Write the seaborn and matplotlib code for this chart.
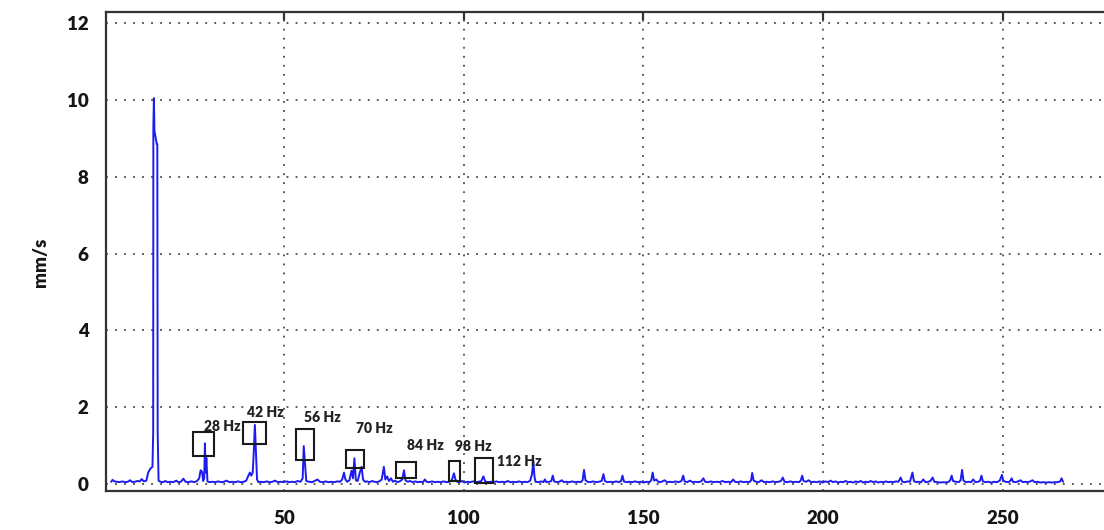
import matplotlib
matplotlib.use("Agg")
import matplotlib.pyplot as plt
from matplotlib.patches import Rectangle
import seaborn as sns
import pandas as pd

# ---------------- data ----------------
# spectrum vertices: (frequency Hz, amplitude mm/s), split by band
band_low = [(1.9, 0.06), (2.3, 0.11), (2.8, 0.07), (3.5, 0.06), (4.2, 0.05), (5.0, 0.07),
            (5.8, 0.05), (6.5, 0.06), (7.2, 0.10), (7.8, 0.05), (8.5, 0.06), (9.2, 0.08),
            (9.9, 0.07), (10.4, 0.13), (11.0, 0.07), (11.7, 0.09), (12.2, 0.30), (12.8, 0.40),
            (13.4, 0.45)]
band_main = [(13.6, 1.32), (13.65, 9.3), (13.8, 10.05), (13.95, 9.2), (14.6, 8.85), (14.75, 8.85),
             (14.85, 1.36), (15.1, 0.09)]
band_14_28 = [(15.6, 0.06), (16.3, 0.05), (17.0, 0.08), (17.6, 0.05), (18.4, 0.06), (19.2, 0.05),
              (20.0, 0.09), (20.6, 0.05), (21.3, 0.06), (22.0, 0.14), (22.6, 0.06), (23.4, 0.05),
              (24.2, 0.07), (25.0, 0.05), (25.8, 0.08), (26.4, 0.15), (26.8, 0.36), (27.2, 0.32),
              (27.5, 0.08), (27.8, 0.15), (28.0, 1.06), (28.2, 0.30), (28.4, 0.68), (28.7, 0.07)]
band_28_42 = [(29.3, 0.05), (30.1, 0.06), (30.9, 0.05), (31.7, 0.07), (32.5, 0.05), (33.3, 0.06),
              (34.0, 0.09), (34.8, 0.05), (35.6, 0.06), (36.4, 0.05), (37.2, 0.07), (38.0, 0.05),
              (38.8, 0.06), (39.5, 0.09), (40.0, 0.20), (40.5, 0.30), (40.9, 0.22), (41.3, 0.30),
              (41.6, 0.85), (41.9, 1.54), (42.2, 0.85), (42.5, 0.12), (42.9, 0.05)]
band_42_56 = [(43.6, 0.06), (44.4, 0.05), (45.2, 0.07), (46.0, 0.05), (46.8, 0.06), (47.5, 0.09),
              (48.3, 0.05), (49.1, 0.06), (49.9, 0.05), (50.7, 0.07), (51.5, 0.05), (52.3, 0.06),
              (53.0, 0.05), (53.8, 0.08), (54.6, 0.06), (55.2, 0.15), (55.5, 0.99), (55.9, 0.45),
              (56.2, 0.08)]
band_56_70 = [(57.0, 0.06), (57.8, 0.05), (58.5, 0.08), (59.3, 0.12), (60.0, 0.06), (60.8, 0.05),
              (61.6, 0.07), (62.4, 0.05), (63.2, 0.06), (64.0, 0.05), (64.8, 0.07), (65.6, 0.06),
              (66.2, 0.12), (66.7, 0.30), (67.1, 0.12), (67.6, 0.06), (68.2, 0.10), (68.8, 0.35),
              (69.2, 0.15), (69.6, 0.67), (70.0, 0.10), (70.5, 0.08), (71.1, 0.30), (71.6, 0.45),
              (72.0, 0.12), (72.5, 0.06)]
band_72_98 = [(73.1, 0.07), (73.8, 0.05), (74.5, 0.08), (75.2, 0.06), (75.9, 0.05), (76.5, 0.07),
              (77.2, 0.12), (77.8, 0.45), (78.2, 0.12), (78.7, 0.20), (79.2, 0.08), (79.8, 0.15),
              (80.3, 0.06), (80.9, 0.09), (81.5, 0.05), (82.2, 0.07), (82.9, 0.12), (83.4, 0.36),
              (83.8, 0.10), (84.4, 0.06), (85.1, 0.08), (85.8, 0.05), (86.5, 0.07), (87.2, 0.05),
              (88.0, 0.06), (88.7, 0.05), (89.2, 0.12), (89.7, 0.06), (90.4, 0.05), (91.2, 0.07),
              (92.0, 0.05), (92.8, 0.06), (93.6, 0.05), (94.4, 0.07), (95.2, 0.05), (96.0, 0.06),
              (96.7, 0.10), (97.3, 0.28), (97.7, 0.12), (98.2, 0.06)]
band_98_120 = [(98.8, 0.05), (99.5, 0.08), (100.2, 0.04), (101.0, 0.06), (101.8, 0.05), (102.6, 0.07),
               (103.4, 0.05), (104.2, 0.06), (104.9, 0.08), (105.5, 0.20), (106.0, 0.07), (106.7, 0.05),
               (107.5, 0.06), (108.3, 0.05), (109.1, 0.07), (109.9, 0.05), (110.7, 0.06), (111.5, 0.05),
               (112.3, 0.08), (113.0, 0.05), (113.8, 0.06), (114.6, 0.05), (115.4, 0.07), (116.2, 0.05),
               (117.0, 0.06), (117.8, 0.05), (118.5, 0.09), (119.0, 0.25), (119.4, 0.60), (119.7, 0.20),
               (120.0, 0.06)]
band_120_160 = [(120.8, 0.05), (121.6, 0.07), (122.2, 0.05), (122.6, 0.12), (123.0, 0.05), (123.8, 0.06),
                (124.4, 0.08), (124.8, 0.22), (125.2, 0.07), (125.9, 0.05), (126.6, 0.06), (127.3, 0.10),
                (127.9, 0.05), (128.6, 0.06), (129.4, 0.05), (130.2, 0.07), (131.0, 0.05), (131.8, 0.06),
                (132.6, 0.05), (133.1, 0.10), (133.5, 0.37), (133.9, 0.10), (134.5, 0.06), (135.2, 0.05),
                (136.0, 0.07), (136.8, 0.05), (137.6, 0.06), (138.4, 0.08), (138.9, 0.26), (139.3, 0.08),
                (140.0, 0.05), (140.8, 0.06), (141.6, 0.05), (142.4, 0.07), (143.2, 0.05), (143.8, 0.08),
                (144.2, 0.22), (144.6, 0.07), (145.3, 0.05), (146.1, 0.06), (146.9, 0.05), (147.7, 0.07),
                (148.5, 0.05), (149.3, 0.06), (150.1, 0.04), (150.9, 0.06), (151.7, 0.05), (152.2, 0.10),
                (152.6, 0.30), (153.0, 0.09), (153.6, 0.12), (154.3, 0.05), (155.1, 0.06), (155.9, 0.10),
                (156.6, 0.05), (157.4, 0.06), (158.2, 0.05), (159.0, 0.07), (159.8, 0.05)]
band_160_200 = [(160.6, 0.08), (161.1, 0.22), (161.5, 0.07), (162.2, 0.05), (163.0, 0.09), (163.7, 0.05),
                (164.5, 0.06), (165.3, 0.05), (166.1, 0.07), (166.7, 0.15), (167.2, 0.06), (168.0, 0.05),
                (168.8, 0.07), (169.6, 0.05), (170.4, 0.06), (171.2, 0.05), (172.0, 0.08), (172.8, 0.05),
                (173.6, 0.06), (174.4, 0.05), (175.0, 0.12), (175.5, 0.06), (176.3, 0.05), (177.1, 0.07),
                (177.9, 0.05), (178.7, 0.06), (179.5, 0.05), (180.0, 0.10), (180.3, 0.29), (180.7, 0.09),
                (181.4, 0.06), (182.1, 0.05), (182.9, 0.10), (183.6, 0.05), (184.4, 0.06), (185.2, 0.05),
                (186.0, 0.07), (186.8, 0.05), (187.6, 0.06), (188.3, 0.08), (188.8, 0.17), (189.3, 0.06),
                (190.1, 0.05), (190.9, 0.07), (191.7, 0.05), (192.5, 0.06), (193.3, 0.05), (193.8, 0.09),
                (194.2, 0.22), (194.6, 0.08), (195.3, 0.06), (196.0, 0.10), (196.7, 0.05), (197.5, 0.06),
                (198.3, 0.05), (199.1, 0.07)]
band_200_235 = [(199.9, 0.04), (200.7, 0.07), (201.4, 0.05), (202.1, 0.09), (202.8, 0.05), (203.5, 0.07),
                (204.2, 0.04), (204.9, 0.06), (205.6, 0.05), (206.3, 0.08), (207.0, 0.05), (207.7, 0.06),
                (208.4, 0.04), (209.1, 0.07), (209.8, 0.05), (210.5, 0.08), (211.2, 0.04), (211.9, 0.06),
                (212.6, 0.05), (213.3, 0.08), (214.0, 0.05), (214.7, 0.07), (215.4, 0.04), (216.1, 0.06),
                (216.8, 0.05), (217.5, 0.07), (218.2, 0.05), (218.9, 0.06), (219.6, 0.05), (220.3, 0.07),
                (221.0, 0.06), (221.6, 0.17), (222.1, 0.06), (222.8, 0.05), (223.5, 0.07), (224.2, 0.06),
                (224.9, 0.30), (225.3, 0.08), (225.9, 0.05), (226.6, 0.06), (227.3, 0.05), (227.9, 0.12),
                (228.5, 0.05), (229.2, 0.06), (229.9, 0.08), (230.5, 0.17), (231.0, 0.06), (231.8, 0.05),
                (232.6, 0.04), (233.4, 0.05), (234.2, 0.04)]
band_235_267 = [(235.0, 0.06), (235.4, 0.10), (235.8, 0.22), (236.2, 0.08), (237.0, 0.06), (237.8, 0.05),
                (238.3, 0.10), (238.7, 0.37), (239.1, 0.09), (239.8, 0.05), (240.5, 0.06), (241.2, 0.05),
                (241.8, 0.12), (242.4, 0.05), (243.2, 0.06), (243.7, 0.09), (244.1, 0.22), (244.5, 0.07),
                (245.2, 0.05), (246.0, 0.06), (246.8, 0.04), (247.6, 0.06), (248.4, 0.05), (249.2, 0.09),
                (249.8, 0.24), (250.2, 0.08), (250.9, 0.06), (251.6, 0.05), (252.1, 0.08), (252.5, 0.15),
                (252.9, 0.06), (253.6, 0.05), (254.3, 0.07), (255.0, 0.10), (255.6, 0.05), (256.3, 0.06),
                (257.0, 0.05), (257.7, 0.07), (258.3, 0.10), (258.9, 0.05), (259.7, 0.06), (260.5, 0.04),
                (261.3, 0.05), (262.1, 0.04), (262.9, 0.05), (263.7, 0.04), (264.5, 0.05), (265.3, 0.05),
                (266.0, 0.07), (266.4, 0.15), (266.8, 0.06)]

# harmonic annotations: label, text anchor (left x, centre y), box extents
harm_labels = ["28 Hz", "42 Hz", "56 Hz", "70 Hz", "84 Hz", "98 Hz", "112 Hz"]
label_x = [27.7, 39.6, 55.6, 70.0, 84.3, 97.6, 109.2]
label_y = [1.49, 1.86, 1.73, 1.46, 1.01, 0.99, 0.60]
box_x0 = [24.8, 38.7, 53.3, 67.2, 81.1, 95.9, 103.1]
box_x1 = [30.6, 45.0, 58.4, 72.3, 86.7, 99.0, 108.1]
box_y0 = [0.74, 1.04, 0.63, 0.43, 0.16, 0.08, 0.04]
box_y1 = [1.36, 1.62, 1.43, 0.90, 0.57, 0.60, 0.68]

x_ticks = [50, 100, 150, 200, 250]
y_ticks = [0, 2, 4, 6, 8, 10, 12]
y_label = "mm/s"

# ---------------- build table ----------------
bands = [band_low, band_main, band_14_28, band_28_42, band_42_56, band_56_70,
         band_72_98, band_98_120, band_120_160, band_160_200, band_200_235, band_235_267]
pts = [p for b in bands for p in b]
df = pd.DataFrame(pts, columns=["freq", "amp"])

# ---------------- plot ----------------
sns.set_theme(style="white")
plt.rcParams["font.family"] = ["Lato", "DejaVu Sans"]

W, H = 1104, 530
fig = plt.figure(figsize=(W / 100, H / 100), dpi=100)
fig.patch.set_facecolor("white")
ax = fig.add_axes([106 / W, 1 - 491 / H, (W - 106) / W, (491 - 12) / H])

sns.lineplot(data=df, x="freq", y="amp", ax=ax, color="#1c1cf0", linewidth=1.4,
             estimator=None, sort=False)

ax.set_xlim(0.47, 278.2)
ax.set_ylim(-0.18, 12.29)
ax.set_xticks(x_ticks)
ax.set_yticks(y_ticks)
ax.set_xlabel("")
ax.set_ylabel("")

ax.grid(True, color="#4a4a4a", linestyle=(0, (1, 4)), linewidth=1.3)
ax.set_axisbelow(True)

for side in ["left", "bottom", "top"]:
    ax.spines[side].set_visible(True)
    ax.spines[side].set_color("#333333")
    ax.spines[side].set_linewidth(1.6)
ax.spines["right"].set_visible(False)

ax.tick_params(axis="both", which="major", direction="inout", length=11, width=1.6,
               color="#333333", labelsize=13.5, labelcolor="#151515")
ax.tick_params(axis="y", pad=7)
ax.tick_params(axis="x", pad=8)
for lab in ax.get_xticklabels() + ax.get_yticklabels():
    lab.set_fontweight("heavy")

# short inward ticks along the top edge
top = ax.secondary_xaxis("top")
top.set_xticks(x_ticks)
top.tick_params(direction="in", length=6, width=1.6, color="#333333", labeltop=False)
top.spines["top"].set_visible(False)

for i, lab in enumerate(harm_labels):
    ax.add_patch(Rectangle((box_x0[i], box_y0[i]), box_x1[i] - box_x0[i], box_y1[i] - box_y0[i],
                           fill=False, edgecolor="#1a1a1a", linewidth=1.5, zorder=4))
    ax.text(label_x[i], label_y[i], lab, ha="left", va="center", fontsize=10,
            fontweight="heavy", color="#222222", zorder=5)

fig.text(40 / W, 1 - 262 / H, y_label, rotation=90, ha="center", va="center",
         fontsize=13.5, fontweight="heavy", color="#151515")

fig.savefig("out.png", dpi=100)
